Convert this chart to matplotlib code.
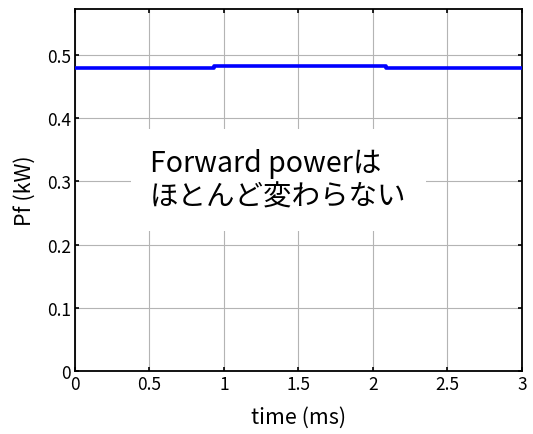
import matplotlib
matplotlib.use("Agg")
import matplotlib.pyplot as plt

plt.rcParams['font.family'] = ['Noto Sans CJK JP', 'DejaVu Sans']

# forward power trace (kW) vs time (ms), piecewise constant
t_ms = [0.0, 0.93, 2.09, 3.0]
pf_kw = [0.479, 0.482, 0.479, 0.479]

xticks = [0, 0.5, 1, 1.5, 2, 2.5, 3]
xticklabels = ['0', '0.5', '1', '1.5', '2', '2.5', '3']
yticks = [0, 0.1, 0.2, 0.3, 0.4, 0.5]
yticklabels = ['0', '0.1', '0.2', '0.3', '0.4', '0.5']
note = 'Forward powerは\nほとんど変わらない'

fig = plt.figure(figsize=(5.33, 4.35), dpi=100)
ax = fig.add_axes([0.1407, 0.1448, 0.8383, 0.8322])

ax.plot(t_ms, pf_kw, drawstyle='steps-post', color='#0000ff', lw=2.6, zorder=3)

ax.set_xlim(0, 3)
ax.set_ylim(0, 0.573)
ax.set_xticks(xticks)
ax.set_xticklabels(xticklabels)
ax.set_yticks(yticks)
ax.set_yticklabels(yticklabels)
ax.grid(True, color='#b4b4b4', lw=0.8)
ax.set_axisbelow(True)
ax.tick_params(direction='in', length=3, width=1.2, top=True, right=True,
               labelsize=12.5, pad=3, colors='black')
for s in ax.spines.values():
    s.set_linewidth(1.3)

ax.set_xlabel('time (ms)', fontsize=15.5, labelpad=9)
ax.set_ylabel('Pf (kW)', fontsize=15.5, labelpad=8)

ax.text(0.503, 0.302, note, fontsize=20.5, va='center', ha='left',
        linespacing=1.15, zorder=4,
        bbox=dict(facecolor='white', edgecolor='none', pad=14))

fig.savefig('out.png', dpi=100)
